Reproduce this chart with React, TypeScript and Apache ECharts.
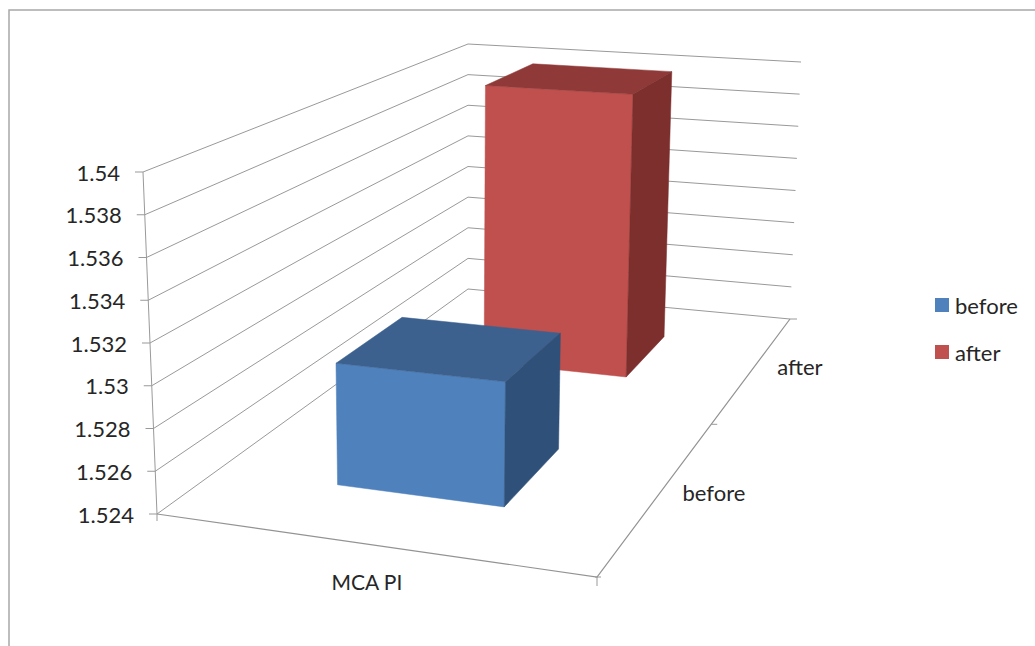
import React, { useEffect, useRef } from "react";
import * as echarts from "echarts";

const categories = ["MCA PI"];
const depthLabels = ["before", "after"];
const beforeValues = [1.5299];
const afterValues = [1.54];
const yTicks = [1.524, 1.526, 1.528, 1.53, 1.532, 1.534, 1.536, 1.538, 1.54];

const Y_MIN = 1.524;
const Y_MAX = 1.54;
const FONT = "Lato";
const TEXT = "#262626";
const LINE = "#999999";

// projection of the chart box: floor and ceiling quads (front-left, front-right, back-right, back-left)
const FLOOR: number[][] = [[157, 514], [597, 577], [790, 319], [468, 289]];
const CEIL: number[][] = [[143, 172], [604, 207], [801, 62], [468, 44]];

function homography(q: number[][]) {
  const [[x0, y0], [x1, y1], [x2, y2], [x3, y3]] = q;
  const dx1 = x1 - x2, dx2 = x3 - x2, sx = x0 - x1 + x2 - x3;
  const dy1 = y1 - y2, dy2 = y3 - y2, sy = y0 - y1 + y2 - y3;
  const den = dx1 * dy2 - dx2 * dy1;
  const g = (sx * dy2 - dx2 * sy) / den;
  const h = (dx1 * sy - sx * dy1) / den;
  const a = x1 - x0 + g * x1, b = x3 - x0 + h * x3, c = x0;
  const d = y1 - y0 + g * y1, e = y3 - y0 + h * y3, f = y0;
  return (u: number, v: number) => {
    const k = g * u + h * v + 1;
    return [(a * u + b * v + c) / k, (d * u + e * v + f) / k];
  };
}
const floorMap = homography(FLOOR);
const ceilMap = homography(CEIL);

function project(u: number, v: number, w: number) {
  const p = floorMap(u, v);
  const q = ceilMap(u, v);
  return [p[0] + (q[0] - p[0]) * w, p[1] + (q[1] - p[1]) * w];
}

// value -> 0..1 height, through the library's own value axis
function heightOf(api: any, value: number) {
  const lo = api.coord([0, Y_MIN])[1];
  const hi = api.coord([0, Y_MAX])[1];
  return (lo - api.coord([0, value])[1]) / (lo - hi);
}

const line = (points: number[][], stroke = LINE, lineWidth = 1) => ({
  type: "polyline",
  shape: { points },
  style: { stroke, lineWidth, fill: "none" },
  silent: true,
});

const label = (text: string, x: number, y: number, align: string, fontSize = 22) => ({
  type: "text",
  x,
  y,
  silent: true,
  style: { text, fontFamily: FONT, fontSize, fill: TEXT, align, verticalAlign: "middle" },
});

const offset = (p: number[], dx: number, dy: number) => [p[0] + dx, p[1] + dy];

function renderGridLine(params: any, api: any) {
  const w = heightOf(api, api.value(1));
  const front = project(0, 0, w);
  return {
    type: "group",
    children: [
      line([front, project(0, 1, w), project(1, 1, w)]),
      line([offset(front, -8, 0), front]),
      label(String(yTicks[params.dataIndex]), front[0] - 23, front[1], "right"),
    ],
  };
}

function renderFrame() {
  const A = project(0, 0, 0), B = project(1, 0, 0), C = project(1, 1, 0), E = project(0, 0, 1), M = project(1, 0.5, 0);
  return {
    type: "group",
    children: [
      line([E, A]),
      line([A, B, C], "#939393", 1.2),
      line([A, offset(A, 0, 7)]),
      line([B, offset(B, 0, 9)]),
      line([offset(B, -2, 0), offset(B, 4, 0)]),
      line([M, offset(M, 6, 0)]),
      line([C, offset(C, 7, 0)]),
    ],
  };
}

function renderAxisLabels() {
  const cat = project(0.5, 0, 0);
  const d0 = project(1, 0.25, 0);
  const d1 = project(1, 0.75, 0);
  return {
    type: "group",
    children: [
      label(categories[0], cat[0] - 1, cat[1] + 37, "center", 21),
      label(depthLabels[0], d0[0] + 54, d0[1] + 0, "center"),
      label(depthLabels[1], d1[0] + 46, d1[1] - 1, "center"),
    ],
  };
}

function barRenderer(v0: number, v1: number, front: string, top: string, side: string) {
  return (_params: any, api: any) => {
    const w = heightOf(api, api.value(1));
    const u0 = 0.3, u1 = 0.7;
    const poly = (points: number[][], fill: string) => ({
      type: "polygon",
      shape: { points },
      style: { fill, stroke: fill, lineWidth: 0.5 },
      silent: true,
    });
    return {
      type: "group",
      children: [
        poly([project(u0, v0, 0), project(u1, v0, 0), project(u1, v0, w), project(u0, v0, w)], front),
        poly([project(u0, v0, w), project(u1, v0, w), project(u1, v1, w), project(u0, v1, w)], top),
        poly([project(u1, v0, 0), project(u1, v1, 0), project(u1, v1, w), project(u1, v0, w)], side),
      ],
    };
  };
}

export default function App() {
  const ref = useRef<HTMLDivElement>(null);
  useEffect(() => {
    if (!ref.current) return;
    const chart = echarts.init(ref.current, undefined, { renderer: "svg" });
    chart.setOption({
      animation: false,
      backgroundColor: "#ffffff",
      grid: { left: 100, right: 100, top: 100, bottom: 100 },
      xAxis: { type: "category", data: categories, show: false },
      yAxis: { type: "value", min: Y_MIN, max: Y_MAX, show: false, splitLine: { show: false } },
      graphic: [
        {
          type: "rect",
          silent: true,
          shape: { x: 9, y: 10, width: 1100, height: 700 },
          style: { fill: "none", stroke: "#a8a8a8", lineWidth: 1.5 },
        },
      ],
      legend: {
        orient: "vertical",
        left: 935,
        top: 293,
        padding: 0,
        itemWidth: 14,
        itemHeight: 14,
        itemGap: 23,
        itemStyle: { borderWidth: 0 },
        textStyle: { fontFamily: FONT, fontSize: 22, color: TEXT, padding: [0, 0, 0, 1], lineHeight: 24 },
        selectedMode: false,
        data: [
          { name: "before", icon: "rect" },
          { name: "after", icon: "rect" },
        ],
      },
      series: [
        { type: "custom", name: "grid", silent: true, data: yTicks.map((t) => [0, t]), renderItem: renderGridLine },
        { type: "custom", name: "frame", silent: true, data: [[0, Y_MIN]], renderItem: renderFrame },
        { type: "custom", name: "labels", silent: true, data: [[0, Y_MIN]], renderItem: renderAxisLabels },
        {
          type: "custom",
          name: "after",
          silent: true,
          itemStyle: { color: "#C0504D" },
          data: afterValues.map((v, i) => [i, v]),
          renderItem: barRenderer(0.65, 0.85, "#C0504D", "#8F3A38", "#7C2F2D"),
        },
        {
          type: "custom",
          name: "before",
          silent: true,
          itemStyle: { color: "#4F81BD" },
          data: beforeValues.map((v, i) => [i, v]),
          renderItem: barRenderer(0.15, 0.35, "#4F81BD", "#3C618E", "#2F5179"),
        },
      ],
    });
    return () => chart.dispose();
  }, []);
  return <div ref={ref} style={{ position: "fixed", left: 0, top: 0, width: 1035, height: 646 }} />;
}
